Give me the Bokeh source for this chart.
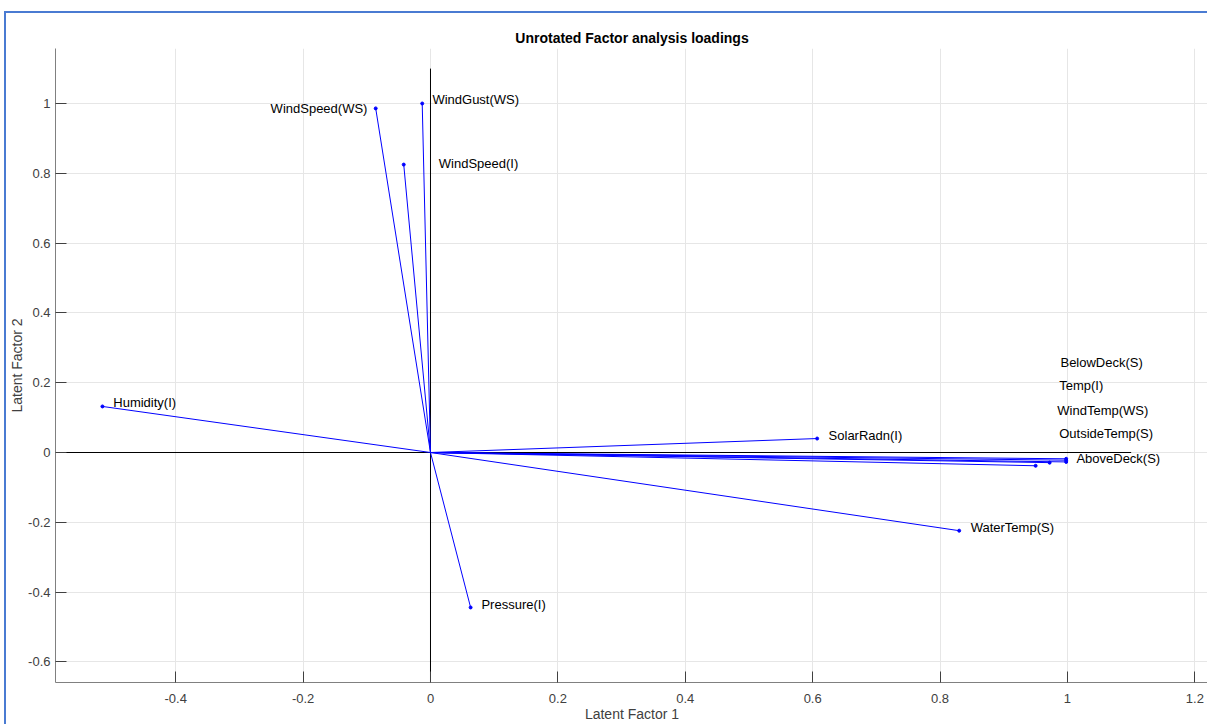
from bokeh.plotting import figure
from bokeh.models import ColumnDataSource, Range1d, FixedTicker, Title
from bokeh.core.properties import value
from bokeh.embed import file_html
from bokeh.resources import INLINE

# ---- data ----
names = ["WindSpeed(WS)", "WindGust(WS)", "WindSpeed(I)", "Humidity(I)",
         "SolarRadn(I)", "Pressure(I)", "WaterTemp(S)", "AboveDeck(S)",
         "OutsideTemp(S)", "WindTemp(WS)", "Temp(I)", "BelowDeck(S)"]
factor1 = [-0.086, -0.013, -0.042, -0.515, 0.607, 0.063, 0.830, 0.998,
           0.998, 0.998, 0.972, 0.950]
factor2 = [0.986, 1.000, 0.825, 0.132, 0.040, -0.444, -0.224, -0.018,
           -0.022, -0.027, -0.029, -0.038]
label_x = [-0.099, 0.003, 0.013, -0.498, 0.625, 0.080, 0.848, 1.014,
           0.987, 0.984, 0.987, 0.989]
label_y = [0.986, 1.011, 0.828, 0.143, 0.049, -0.436, -0.215, -0.017,
           0.054, 0.120, 0.192, 0.258]
label_align = ["right", "left", "left", "left", "left", "left", "left",
               "left", "left", "left", "left", "left"]
x_ticks = [-0.4, -0.2, 0, 0.2, 0.4, 0.6, 0.8, 1, 1.2]
y_ticks = [-0.6, -0.4, -0.2, 0, 0.2, 0.4, 0.6, 0.8, 1]

FONT = "Liberation Sans"

src = ColumnDataSource(dict(name=names, f1=factor1, f2=factor2,
                            x0=[0.0] * len(names), y0=[0.0] * len(names),
                            lx=label_x, ly=label_y, align=label_align))

p = figure(width=1203, height=713, output_backend="svg", toolbar_location=None,
           x_range=Range1d(-0.5887, 1.2214), y_range=Range1d(-0.659, 1.1576),
           min_border_left=47, min_border_right=1, min_border_top=35,
           min_border_bottom=44, outline_line_color=None)

p.title = Title(text="Unrotated Factor analysis loadings", align="center",
                text_font=FONT, text_font_size="14px", text_font_style="bold",
                text_color="#000000", standoff=5)

# reference axes lines
p.line([0, 0], [-0.7, 1.1], line_color="black", line_width=1)
p.line([-0.6, 1.1], [0, 0], line_color="black", line_width=1)

# loading vectors
p.segment(x0="x0", y0="y0", x1="f1", y1="f2", source=src,
          line_color="#0000ff", line_width=1)
p.scatter(x="f1", y="f2", source=src, size=3, marker="circle",
          fill_color="#0000ff", line_color="#0000ff")

p.text(x="lx", y="ly", text="name", source=src, text_align="align",
       text_baseline="middle", text_font=value(FONT), text_font_size="13px",
       text_color="#000000")

for ax in (p.xaxis[0], p.yaxis[0]):
    ax.major_tick_in = 11
    ax.major_tick_out = 0
    ax.minor_tick_line_color = None
    ax.axis_line_color = "#808080"
    ax.major_tick_line_color = "#404040"
    ax.major_label_text_font = FONT
    ax.major_label_text_font_size = "13px"
    ax.major_label_text_color = "#404040"
    ax.axis_label_text_font = FONT
    ax.axis_label_text_font_size = "14px"
    ax.axis_label_text_font_style = "normal"
    ax.axis_label_text_color = "#404040"

p.xaxis.ticker = FixedTicker(ticks=x_ticks)
p.yaxis.ticker = FixedTicker(ticks=y_ticks)
p.xaxis.major_label_overrides = {t: ("%g" % t) for t in x_ticks}
p.yaxis.major_label_overrides = {t: ("%g" % t) for t in y_ticks}
p.xaxis.axis_label = "Latent Factor 1"
p.yaxis.axis_label = "Latent Factor 2"
p.xaxis.major_label_standoff = 11
p.xaxis.axis_label_standoff = 0
p.yaxis.major_label_standoff = 5
p.yaxis.axis_label_standoff = 0

p.xgrid.ticker = FixedTicker(ticks=x_ticks)
p.ygrid.ticker = FixedTicker(ticks=y_ticks)
p.grid.grid_line_color = "#e6e6e6"
p.grid.grid_line_width = 1

p.margin = (11, 0, 0, 4)
p.styles = {"border-left": "2px solid #4a7bd2", "border-top": "2px solid #4a7bd2"}

open("out.html", "w").write(file_html(p, INLINE))
